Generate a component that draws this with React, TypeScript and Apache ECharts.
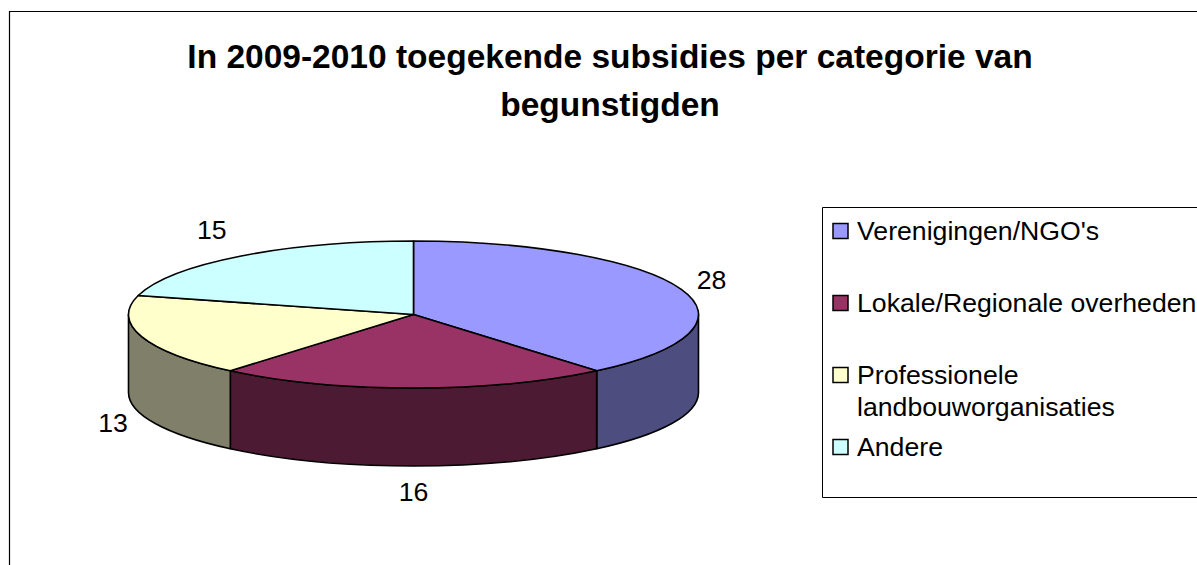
import React, { useEffect, useRef } from "react";
import * as echarts from "echarts";

const titleLines = ["In 2009-2010 toegekende subsidies per categorie van", "begunstigden"];
const categories = ["Verenigingen/NGO's", "Lokale/Regionale overheden", "Professionele\nlandbouworganisaties", "Andere"];
const values = [28, 16, 13, 15];
const topColors = ["#9999FF", "#993366", "#FFFFCC", "#CCFFFF"];
const wallColors = ["#4D4D80", "#4D1A33", "#80806A", "#668080"];

const FONT = '"Liberation Sans", Arial, sans-serif';
const TEXT_SIZE = 26.67;
const CX = 413.5;
const CY = 314.5;
const RX = 285;
const RY = 73.5;
const DEPTH = 78;
const LABEL_RX = RX + 30;
const LABEL_RY = RY + 26;
const labelNudgeX = [2, 0, 0, -10];
const labelNudgeY = [0, 0, 1, -6];
const LEGEND_X = 822.5;
const LEGEND_TOP = 207.5;
const LEGEND_BOTTOM = 497.5;
const LEGEND_FIRST_Y = 231;
const LEGEND_STEP = 72;
const LEGEND_LINE = 32;

const total = values.reduce((a, b) => a + b, 0);
const toAngle = (v: number) => (v / total) * Math.PI * 2;
const px = (a: number) => CX + RX * Math.sin(a);
const py = (a: number) => CY - RY * Math.cos(a);

function renderSlice(params: any, api: any) {
  const i = params.dataIndex;
  let sum = 0;
  for (let k = 0; k < i; k++) sum += values[k];
  const start = toAngle(sum);
  const end = start + toAngle(api.value(0));
  const stroke = { stroke: "#000", lineWidth: 1.6, lineJoin: "round" };
  const children: any[] = [];

  // visible outer wall: only the front half of the rim
  const ws = Math.max(start, Math.PI / 2);
  const we = Math.min(end, (Math.PI * 3) / 2);
  if (we > ws) {
    const d =
      `M${px(ws)} ${py(ws)}` +
      `A${RX} ${RY} 0 0 1 ${px(we)} ${py(we)}` +
      `L${px(we)} ${py(we) + DEPTH}` +
      `A${RX} ${RY} 0 0 0 ${px(ws)} ${py(ws) + DEPTH}Z`;
    children.push({ type: "path", shape: { pathData: d }, style: { fill: wallColors[i], ...stroke } });
  }

  const large = end - start > Math.PI ? 1 : 0;
  const top =
    `M${CX} ${CY}L${px(start)} ${py(start)}` +
    `A${RX} ${RY} 0 ${large} 1 ${px(end)} ${py(end)}Z`;
  children.push({ type: "path", shape: { pathData: top }, style: { fill: topColors[i], ...stroke } });

  const mid = (start + end) / 2;
  const lx = CX + LABEL_RX * Math.sin(mid) + labelNudgeX[i];
  const ly = CY - LABEL_RY * Math.cos(mid) + (Math.cos(mid) < 0 ? DEPTH : 0) + labelNudgeY[i];
  children.push({
    type: "text",
    style: {
      x: lx,
      y: ly,
      text: String(api.value(0)),
      font: `${TEXT_SIZE}px ${FONT}`,
      fill: "#000",
      align: "center",
      verticalAlign: "middle",
    },
  });
  return { type: "group", children };
}

function legendGraphics() {
  const items: any[] = [
    {
      type: "rect",
      shape: { x: LEGEND_X, y: LEGEND_TOP, width: 1197 - LEGEND_X + 10, height: LEGEND_BOTTOM - LEGEND_TOP },
      style: { fill: "#fff", stroke: "#000", lineWidth: 1 },
      z: 1,
    },
  ];
  categories.forEach((name, i) => {
    const y = LEGEND_FIRST_Y + i * LEGEND_STEP;
    items.push({
      type: "rect",
      shape: { x: 833, y: y - 7.5, width: 15, height: 15 },
      style: { fill: topColors[i], stroke: "#000", lineWidth: 1.5 },
      z: 2,
    });
    items.push({
      type: "text",
      x: 857,
      y: y - LEGEND_LINE / 2,
      style: {
        text: name,
        font: `${TEXT_SIZE}px ${FONT}`,
        fill: "#000",
        lineHeight: LEGEND_LINE,
        align: "left",
        verticalAlign: "top",
      },
      z: 2,
    });
  });
  return items;
}

export default function App() {
  const ref = useRef<HTMLDivElement>(null);
  useEffect(() => {
    const chart = echarts.init(ref.current!, null, { renderer: "svg" });
    chart.setOption({
      animation: false,
      backgroundColor: "#fff",
      title: {
        text: titleLines.join("\n"),
        left: 605,
        top: 27,
        textAlign: "center",
        textStyle: { fontFamily: FONT, fontWeight: "bold", fontSize: 33.5, lineHeight: 48, color: "#000" },
      },
      graphic: [
        {
          type: "rect",
          shape: { x: 9.5, y: 11.5, width: 1300, height: 700 },
          style: { fill: "none", stroke: "#000", lineWidth: 1.2 },
          z: 0,
        },
        ...legendGraphics(),
      ],
      series: [
        {
          type: "custom",
          coordinateSystem: "none",
          renderItem: renderSlice,
          data: values.map((v) => [v]),
          encode: { value: 0 },
        },
      ],
    });
    return () => chart.dispose();
  }, []);
  return <div ref={ref} style={{ position: "absolute", left: 0, top: 0, width: 1197, height: 565 }} />;
}
